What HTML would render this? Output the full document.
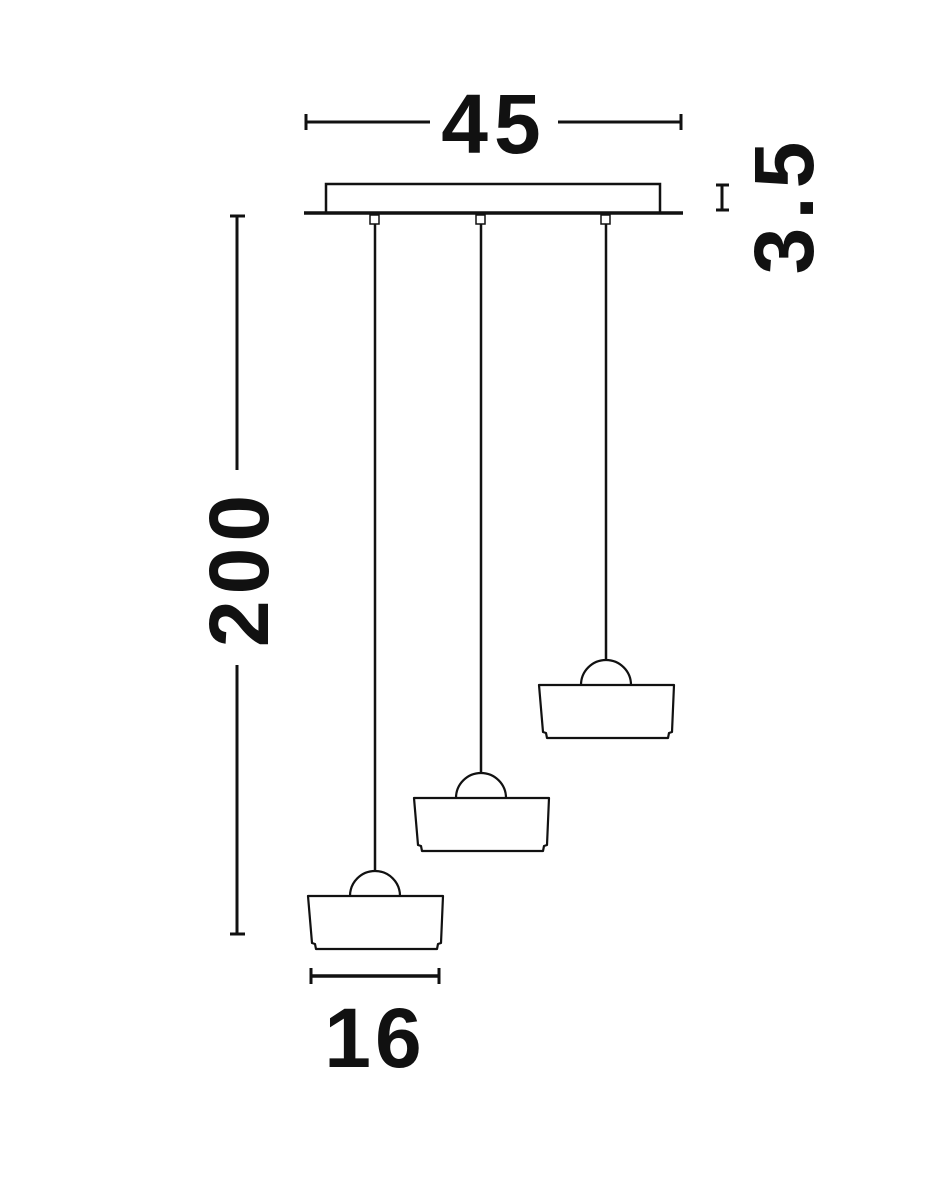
<!DOCTYPE html>
<html><head><meta charset="utf-8"><style>
html,body{margin:0;padding:0;background:#fff;width:940px;height:1200px;overflow:hidden}
</style></head><body>
<svg width="940" height="1200" viewBox="0 0 940 1200" xmlns="http://www.w3.org/2000/svg">
<g stroke="#111" fill="none" stroke-linecap="butt">
<!-- 45 dim -->
<line x1="305" y1="122" x2="430" y2="122" stroke-width="3"/>
<line x1="558" y1="122" x2="682" y2="122" stroke-width="3"/>
<line x1="306" y1="114" x2="306" y2="130" stroke-width="3"/>
<line x1="681" y1="114" x2="681" y2="130" stroke-width="3"/>
<!-- 200 dim -->
<line x1="237" y1="216" x2="237" y2="470" stroke-width="3"/>
<line x1="237" y1="665" x2="237" y2="934" stroke-width="3"/>
<line x1="230" y1="216" x2="245" y2="216" stroke-width="3"/>
<line x1="230" y1="934" x2="245" y2="934" stroke-width="3"/>
<!-- 3.5 dim -->
<line x1="722" y1="185" x2="722" y2="210" stroke-width="3"/>
<line x1="716" y1="185" x2="729" y2="185" stroke-width="3"/>
<line x1="716" y1="210" x2="729" y2="210" stroke-width="3"/>
<!-- 16 dim -->
<line x1="310" y1="976" x2="440" y2="976" stroke-width="3.5"/>
<line x1="311" y1="968" x2="311" y2="984" stroke-width="3"/>
<line x1="439" y1="968" x2="439" y2="984" stroke-width="3"/>
<!-- canopy -->
<rect x="326" y="184" width="334" height="29" stroke-width="2.5"/>
<line x1="304" y1="213" x2="683" y2="213" stroke-width="3.5"/>
<rect x="370" y="215" width="9" height="9" stroke-width="1.5"/>
<rect x="476" y="215" width="9" height="9" stroke-width="1.5"/>
<rect x="601" y="215" width="9" height="9" stroke-width="1.5"/>
<!-- cords -->
<line x1="375" y1="224" x2="375" y2="871" stroke-width="2.5"/>
<line x1="481" y1="224" x2="481" y2="773" stroke-width="2.5"/>
<line x1="606" y1="224" x2="606" y2="660" stroke-width="2.5"/>
</g>
<g stroke="#111" fill="none" stroke-width="2.2" stroke-linejoin="round">
<g id="s1">
<path d="M350 896 A25 25 0 0 1 400 896"/>
<path d="M308 896 L443 896 L441 943 L438 944 L437 949 L316 949 L315 944 L312 943 Z"/>
</g>
<g transform="translate(106,-98)"><path d="M350 896 A25 25 0 0 1 400 896"/>
<path d="M308 896 L443 896 L441 943 L438 944 L437 949 L316 949 L315 944 L312 943 Z"/></g>
<g transform="translate(231,-211)"><path d="M350 896 A25 25 0 0 1 400 896"/>
<path d="M308 896 L443 896 L441 943 L438 944 L437 949 L316 949 L315 944 L312 943 Z"/></g>
</g>
<g font-family="Liberation Sans, sans-serif" font-weight="bold" font-size="84" fill="#111" text-anchor="middle">
<text x="494" y="153" letter-spacing="6">45</text>
<text x="375" y="1067" letter-spacing="4">16</text>
<text transform="translate(268,568) rotate(-90)" letter-spacing="6">200</text>
<text transform="translate(813,204) rotate(-90)" letter-spacing="8">3.5</text>
</g>
</svg>
</body></html>
